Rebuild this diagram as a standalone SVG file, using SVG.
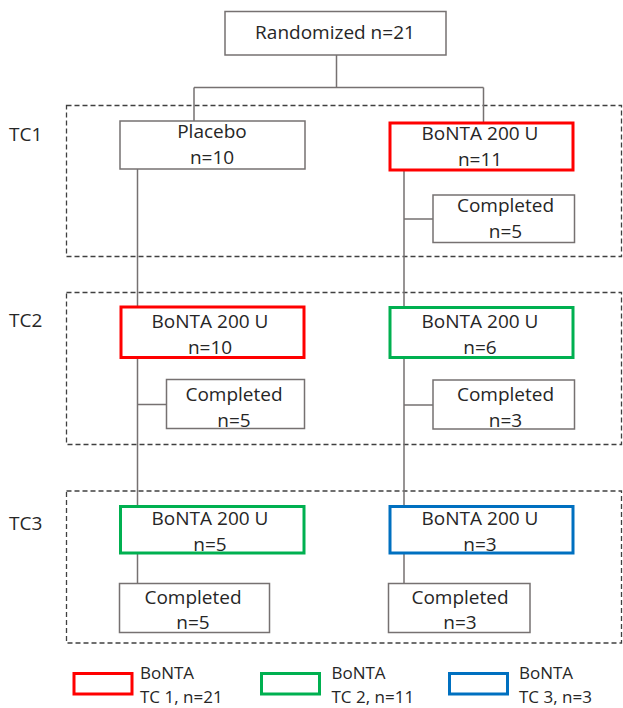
<svg xmlns="http://www.w3.org/2000/svg" width="623" height="708" viewBox="0 0 623 708">
<style>
  text { font-family: "Open Sans", "Noto Sans", "Liberation Sans", sans-serif; font-size: 19px; fill: #262626; }
  .c { text-anchor: middle; }
  .lg { font-size: 17px; }
  .box { fill: #ffffff; stroke: #767171; stroke-width: 1.5; }
  .red { fill: #ffffff; stroke: #ff0000; stroke-width: 3; }
  .green { fill: #ffffff; stroke: #00b050; stroke-width: 3; }
  .blue { fill: #ffffff; stroke: #0070c0; stroke-width: 3; }
  .tc { fill: none; stroke: #404040; stroke-width: 1.3; stroke-dasharray: 5 3; }
  .ln { fill: none; stroke: #767171; stroke-width: 1.5; }
</style>
<g id="periods">
  <rect class="tc" x="66.5" y="105.5" width="555" height="151"/>
  <rect class="tc" x="66.5" y="292.5" width="555" height="152"/>
  <rect class="tc" x="66.5" y="491" width="555" height="152"/>
  <text x="9" y="141">TC1</text>
  <text x="9" y="327">TC2</text>
  <text x="9" y="530">TC3</text>
</g>
<g id="connectors">
  <path class="ln" d="M336.5 55 V87.5 M194 87.5 H483.5 M194 87.5 V121 M483.5 87.5 V122"/>
  <path class="ln" d="M137.5 169 V306"/>
  <path class="ln" d="M404 171 V306 M404 219 H433"/>
  <path class="ln" d="M137.5 359 V505 M137.5 404.5 H166.5"/>
  <path class="ln" d="M404 359 V505 M404 405 H433"/>
  <path class="ln" d="M137.5 554 V583.5"/>
  <path class="ln" d="M404 554 V583.5"/>
</g>
<g id="randomized">
  <rect class="box" x="225" y="11.5" width="221" height="43.5"/>
  <text class="c" x="335" y="38.5">Randomized n=21</text>
</g>
<g id="placebo">
  <rect class="box" x="120" y="121" width="185" height="48"/>
  <text class="c" x="212" y="138">Placebo</text>
  <text class="c" x="212" y="164">n=10</text>
</g>
<g id="tc1-bonta">
  <rect class="red" x="390" y="123" width="183" height="47"/>
  <text class="c" x="480" y="140">BoNTA 200 U</text>
  <text class="c" x="480" y="166">n=11</text>
</g>
<g id="tc1-completed">
  <rect class="box" x="433" y="195" width="141.5" height="47.5"/>
  <text class="c" x="505.5" y="212">Completed</text>
  <text class="c" x="505.5" y="238">n=5</text>
</g>
<g id="tc2-left-bonta">
  <rect class="red" x="121" y="307" width="183" height="50.5"/>
  <text class="c" x="210" y="328">BoNTA 200 U</text>
  <text class="c" x="210" y="353.5">n=10</text>
</g>
<g id="tc2-left-completed">
  <rect class="box" x="166.5" y="379.5" width="138" height="49"/>
  <text class="c" x="234" y="401">Completed</text>
  <text class="c" x="234" y="427">n=5</text>
</g>
<g id="tc2-right-bonta">
  <rect class="green" x="390" y="307.5" width="183" height="50"/>
  <text class="c" x="480" y="328">BoNTA 200 U</text>
  <text class="c" x="480" y="353.5">n=6</text>
</g>
<g id="tc2-right-completed">
  <rect class="box" x="433" y="380" width="141.5" height="49"/>
  <text class="c" x="505.5" y="401">Completed</text>
  <text class="c" x="505.5" y="427">n=3</text>
</g>
<g id="tc3-left-bonta">
  <rect class="green" x="120.5" y="506.5" width="183.5" height="46.5"/>
  <text class="c" x="210" y="525">BoNTA 200 U</text>
  <text class="c" x="210" y="551">n=5</text>
</g>
<g id="tc3-right-bonta">
  <rect class="blue" x="390" y="506.5" width="183" height="46.5"/>
  <text class="c" x="480" y="525">BoNTA 200 U</text>
  <text class="c" x="480" y="551">n=3</text>
</g>
<g id="tc3-left-completed">
  <rect class="box" x="119.5" y="583.5" width="150" height="49"/>
  <text class="c" x="193" y="603.5">Completed</text>
  <text class="c" x="193" y="628.5">n=5</text>
</g>
<g id="tc3-right-completed">
  <rect class="box" x="388.5" y="583.5" width="141.5" height="49"/>
  <text class="c" x="460" y="603.5">Completed</text>
  <text class="c" x="460" y="628.5">n=3</text>
</g>
<g id="legend-tc1">
  <rect class="red" x="74" y="673.5" width="58" height="20.5"/>
  <text class="lg" x="140" y="679">BoNTA</text>
  <text class="lg" x="140" y="702.5">TC 1, n=21</text>
</g>
<g id="legend-tc2">
  <rect class="green" x="261.5" y="673.5" width="58" height="20.5"/>
  <text class="lg" x="331.5" y="679">BoNTA</text>
  <text class="lg" x="331.5" y="702.5">TC 2, n=11</text>
</g>
<g id="legend-tc3">
  <rect class="blue" x="449.5" y="673.5" width="58" height="20.5"/>
  <text class="lg" x="519" y="679">BoNTA</text>
  <text class="lg" x="519" y="702.5">TC 3, n=3</text>
</g>
</svg>
